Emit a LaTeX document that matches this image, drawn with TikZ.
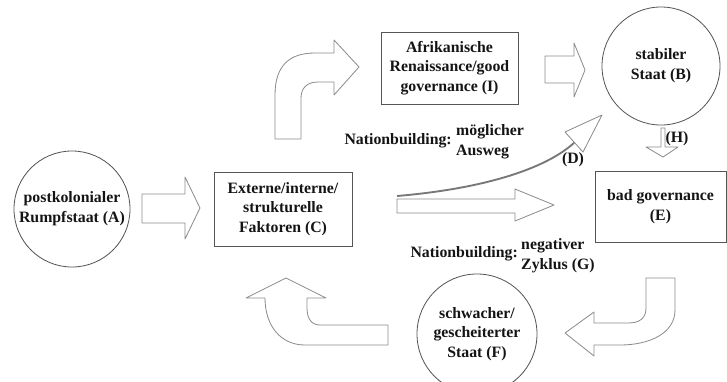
\documentclass[tikz,border=0pt]{standalone}
\usepackage{fontspec}
\setmainfont{Liberation Serif}
\usetikzlibrary{positioning}
\definecolor{Frame}{RGB}{85,85,85}
\definecolor{ArrowGray}{RGB}{140,140,140}
\definecolor{CurveGray}{RGB}{120,120,120}
\definecolor{Ink}{RGB}{20,20,20}

\begin{document}
\begin{tikzpicture}[
    x=0.03cm,y=-0.03cm,
    txt/.style={font=\bfseries\fontsize{13.5}{16.8}\selectfont,text=Ink},
    state/.style={txt,circle,draw=Frame,line width=0.7pt,align=center,inner sep=0pt},
    factor/.style={txt,rectangle,draw=Frame,line width=0.7pt,align=center,inner sep=0pt},
    note/.style={txt,inner sep=0pt},
    blockarrow/.style={draw=ArrowGray,fill=white,line width=0.7pt,line join=round}
]
\path[use as bounding box,clip] (0,0) rectangle (727,381);

% States (circles)
\node[state,minimum size=3.48cm] (A) at (72,209) {postkolonialer\\Rumpfstaat (A)};
\node[state,minimum size=3.54cm] (B) at (661,66) {stabiler\\Staat (B)};
\node[state,minimum size=3.6cm] (F) at (477,334) {schwacher/\\gescheiterter\\Staat (F)};

% Factors (boxes)
\node[factor,minimum width=4.14cm,minimum height=2.22cm] (C) at (283,209) {Externe/interne/\\strukturelle\\Faktoren (C)};
\node[factor,minimum width=4.11cm,minimum height=2.16cm] (I) at (449.5,68) {Afrikanische\\Renaissance/good\\governance (I)};
\node[factor,minimum width=3.93cm,minimum height=2.13cm] (E) at (660.5,206.5) {bad governance\\(E)};

% Labels
\node[note,anchor=east] (nbD) at (452,141) {Nationbuilding:};
\node[note,anchor=west,align=left] (nbDtext) at (456,142) {möglicher\\Ausweg};
\node[note,anchor=east] (nbG) at (518,254) {Nationbuilding:};
\node[note,anchor=west,align=left] (nbGtext) at (521,256) {negativer\\Zyklus (G)};
\node[note] (labD) at (573,160) {(D)};
\node[note] (labH) at (677,139) {(H)};

% A -> C
\draw[blockarrow] (142,194) -- (185,194) -- (185,177) -- (200,208) -- (185,239) -- (185,223) -- (142,223) -- cycle;
% I -> B
\draw[blockarrow] (545,56) -- (574,56) -- (574,43) -- (585,70) -- (574,97) -- (574,83) -- (545,83) -- cycle;
% C -> E
\draw[blockarrow] (397,199) -- (515,199) -- (515,189) -- (554,205) -- (515,221) -- (515,213) -- (397,213) -- cycle;
% B -> E (H)
\draw[blockarrow] (661,128) -- (665,128) -- (665,147) -- (678,147) -- (663,157) -- (646,147) -- (661,147) -- cycle;

% C -> I (bent up)
\draw[blockarrow] (275,139) -- (275,95) .. controls (275,65) and (290,53) .. (315,53)
    -- (334,53) -- (334,40) -- (359,67) -- (334,95) -- (334,82) -- (318,82)
    .. controls (307,82) and (301,88) .. (301,98) -- (301,139) -- cycle;

% E -> F (bent down)
\draw[blockarrow] (675,278) -- (675,310) .. controls (675,333) and (650,345) .. (620,345)
    -- (594,345) -- (594,356) -- (565,333) -- (594,312) -- (594,323) -- (628,323)
    .. controls (640,323) and (646,318) .. (646,308) -- (646,278) -- cycle;

% F -> C (bent up)
\draw[blockarrow] (388,325) -- (320,325) .. controls (311,325) and (307,318) .. (307,308)
    -- (307,298) -- (326,298) -- (286,278) -- (246,298) -- (265,298)
    .. controls (265,325) and (280,345) .. (305,345) -- (388,345) -- cycle;

% C -> B (D), possible way out
\coordinate (Dstart) at (397,196);
\coordinate (Dbase) at (575,142);
\draw[CurveGray,line width=1.6pt] (Dstart) .. controls (480,189) and (545,170) .. (Dbase);
\draw[blockarrow] (565,132) -- (602,115) -- (583,152) -- cycle;

\end{tikzpicture}
\end{document}
